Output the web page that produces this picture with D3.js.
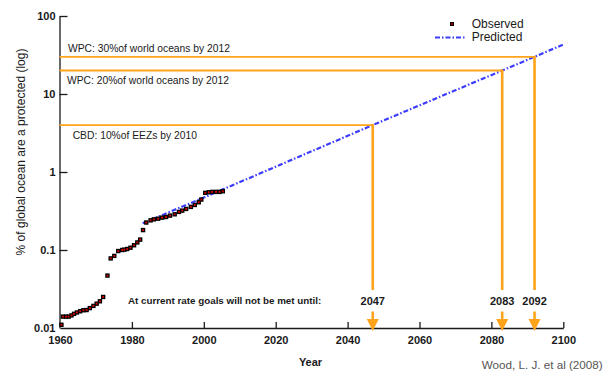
<!DOCTYPE html>
<html>
<head>
<meta charset="utf-8">
<script src="https://cdn.jsdelivr.net/npm/d3@7"></script>
<style>
  html, body { margin: 0; padding: 0; background: #fff; }
  svg { display: block; font-family: "Liberation Sans", Arial, sans-serif; }
</style>
</head>
<body>
<svg id="chart" width="613" height="372"></svg>
<script>
// Observed share of the global ocean under protection (%), by year
const obsYears = [
  1960.4, 1960.8, 1961.7, 1962.4, 1963.2, 1963.9, 1964.7, 1965.6, 1966.5, 1967.4,
  1968.3, 1969.3, 1970.2, 1971.1, 1972.0, 1973.2, 1974.1, 1975.1, 1976.2, 1977.3,
  1977.9, 1978.7, 1979.6, 1980.6, 1981.5, 1982.3, 1983.1, 1984.0, 1985.2, 1986.1,
  1987.3, 1988.4, 1989.5, 1990.6, 1991.9, 1993.1, 1994.0, 1995.1, 1996.4, 1997.5,
  1998.6, 1999.3, 2000.4, 2001.4, 2002.3, 2003.4, 2004.4, 2005.3
];
const obsValues = [
  0.011, 0.014, 0.014, 0.014, 0.0145, 0.0152, 0.0158, 0.0164, 0.0169, 0.017,
  0.018, 0.0192, 0.0205, 0.022, 0.025, 0.047, 0.078, 0.084, 0.097, 0.100,
  0.101, 0.103, 0.107, 0.115, 0.125, 0.136, 0.18, 0.225, 0.24, 0.247,
  0.252, 0.26, 0.265, 0.276, 0.287, 0.308, 0.32, 0.336, 0.357, 0.378,
  0.409, 0.443, 0.54, 0.55, 0.556, 0.556, 0.556, 0.566
];

// Predicted trend (straight line on the log scale)
const predYears  = [1983, 2000, 2047, 2083, 2092, 2100];
const predValues = [0.22, 0.47, 4, 20, 30, 43];

// Protection goals and the year the trend reaches each one
const goalLabels = [
  "CBD: 10%of EEZs by 2010",
  "WPC: 20%of world oceans by 2012",
  "WPC: 30%of world oceans by 2012"
];
const goalValues = [4, 20, 30];
const goalYears  = [2047, 2083, 2092];

// Axis ticks
const xTicks = [1960, 1980, 2000, 2020, 2040, 2060, 2080, 2100];
const yTicks = [0.01, 0.1, 1, 10, 100];
const yTickLabels = ["0.01", "0.1", "1", "10", "100"];

const ORANGE = "#ffa31a";
const BLUE = "#3c3cff";
const INK = "#1a1a1a";
const DASH = "5,2,1.5,2";

const svg = d3.select("#chart");

const x = d3.scaleLinear().domain([1960, 2100]).range([60, 563.3]);
const y = d3.scaleLog().domain([0.01, 100]).range([328, 16]);

// Axes (ticks pointing into the plot)
const yAxis = d3.axisLeft(y)
  .tickValues(yTicks)
  .tickFormat((d, i) => yTickLabels[i])
  .tickSizeInner(-8).tickSizeOuter(0).tickPadding(4);
const xAxis = d3.axisBottom(x)
  .tickValues(xTicks)
  .tickFormat(d3.format("d"))
  .tickSizeInner(-6).tickSizeOuter(0).tickPadding(8);

const gy = svg.append("g").attr("transform", "translate(59.5,0)").call(yAxis);
const gx = svg.append("g").attr("transform", "translate(0,328)").call(xAxis);

[gx, gy].forEach(g => {
  g.select(".domain").attr("stroke", INK).attr("stroke-width", 1.3);
  g.selectAll(".tick line").attr("stroke", INK).attr("stroke-width", 1.3);
  g.selectAll(".tick text")
    .attr("fill", INK)
    .attr("font-size", 11)
    .attr("font-weight", "bold")
    .attr("font-family", "'Liberation Sans', Arial, sans-serif");
});
gx.selectAll(".tick").filter(d => d === 1960).select("line").remove();
gy.selectAll(".tick").filter(d => d === 0.01).select("line").remove();

// Axis titles
svg.append("text")
  .attr("x", 310.5).attr("y", 366)
  .attr("text-anchor", "middle")
  .attr("font-size", 11).attr("font-weight", "bold").attr("fill", INK)
  .text("Year");

svg.append("text")
  .attr("transform", "translate(25,152) rotate(-90)")
  .attr("text-anchor", "middle")
  .attr("font-size", 12).attr("fill", INK)
  .text("% of global ocean are a protected (log)");

// Predicted trend line
const line = d3.line().x((d, i) => x(predYears[i])).y(d => y(d));
svg.append("path")
  .datum(predValues)
  .attr("d", line)
  .attr("fill", "none")
  .attr("stroke", BLUE)
  .attr("stroke-width", 2.2)
  .attr("stroke-dasharray", DASH);

// Observed points: black square with a red centre
const pts = svg.append("g");
pts.selectAll("rect.o")
  .data(obsValues)
  .join("rect")
  .attr("class", "o")
  .attr("x", (d, i) => x(obsYears[i]) - 2.2)
  .attr("y", d => y(d) - 2.2)
  .attr("width", 4.4).attr("height", 4.4)
  .attr("fill", "#000");
pts.selectAll("rect.c")
  .data(obsValues)
  .join("rect")
  .attr("class", "c")
  .attr("x", (d, i) => x(obsYears[i]) - 0.9)
  .attr("y", d => y(d) - 0.9)
  .attr("width", 1.8).attr("height", 1.8)
  .attr("fill", "#e00000");

// Goal lines: horizontal from the axis to the goal year, then down to an arrow
const labelX = [72.7, 67, 68];
const labelDy = [13.5, 13, -4.3];
const goals = svg.append("g");
goalValues.forEach((v, i) => {
  const gxPos = x(goalYears[i]);
  const gyPos = y(v);
  goals.append("line")
    .attr("x1", 59.5).attr("x2", gxPos)
    .attr("y1", gyPos).attr("y2", gyPos)
    .attr("stroke", ORANGE).attr("stroke-width", 1.8);
  goals.append("line")
    .attr("x1", gxPos).attr("x2", gxPos)
    .attr("y1", gyPos - 0.9).attr("y2", 290)
    .attr("stroke", ORANGE).attr("stroke-width", 2.6);
  goals.append("line")
    .attr("x1", gxPos).attr("x2", gxPos)
    .attr("y1", 311.5).attr("y2", 320)
    .attr("stroke", ORANGE).attr("stroke-width", 2.6);
  goals.append("path")
    .attr("d", `M${gxPos - 6},319 L${gxPos + 6},319 L${gxPos},331 Z`)
    .attr("fill", ORANGE);
  goals.append("text")
    .attr("x", gxPos).attr("y", 304.7)
    .attr("text-anchor", "middle")
    .attr("font-size", 11).attr("font-weight", "bold").attr("fill", INK)
    .text(goalYears[i]);
  goals.append("text")
    .attr("x", labelX[i]).attr("y", gyPos + labelDy[i])
    .attr("font-size", 10.3).attr("fill", INK)
    .text(goalLabels[i]);
});

svg.append("text")
  .attr("x", 128).attr("y", 304)
  .attr("font-size", 9.8).attr("font-weight", "bold").attr("fill", INK)
  .text("At current rate goals will not be met until:");

// Legend
const lg = svg.append("g");
lg.append("rect").attr("x", 450).attr("y", 22).attr("width", 4).attr("height", 4).attr("fill", "#000");
lg.append("rect").attr("x", 451.2).attr("y", 23.2).attr("width", 1.6).attr("height", 1.6).attr("fill", "#e00000");
lg.append("text").attr("x", 471.7).attr("y", 28.2).attr("font-size", 12).attr("fill", INK).text("Observed");
lg.append("line")
  .attr("x1", 435).attr("x2", 466).attr("y1", 37.5).attr("y2", 37.5)
  .attr("stroke", BLUE).attr("stroke-width", 2.2).attr("stroke-dasharray", DASH);
lg.append("text").attr("x", 471.7).attr("y", 41).attr("font-size", 12).attr("fill", INK).text("Predicted");

// Source
svg.append("text")
  .attr("x", 481.7).attr("y", 369)
  .attr("font-size", 11).attr("fill", "#555")
  .attr("textLength", 121).attr("lengthAdjust", "spacingAndGlyphs")
  .text("Wood, L. J. et al (2008)");
</script>
</body>
</html>
